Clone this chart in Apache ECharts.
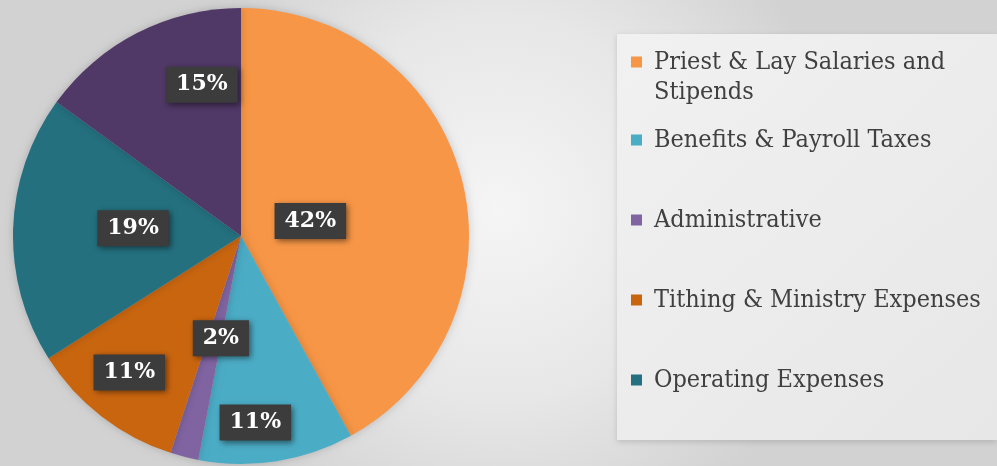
<!DOCTYPE html>
<html>
<head>
<meta charset="utf-8">
<script src="https://cdn.jsdelivr.net/npm/echarts@6/dist/echarts.min.js"></script>
<style>
html,body{margin:0;padding:0;width:997px;height:466px;overflow:hidden;}
#chart{width:997px;height:466px;}
</style>
</head>
<body>
<div id="chart"></div>
<script>
// ---- data ----
const categories = [
  'Priest & Lay Salaries and Stipends',
  'Benefits & Payroll Taxes',
  'Administrative',
  'Tithing & Ministry Expenses',
  'Operating Expenses',
  'Other Expenses'
];
const shares = [42, 11, 2, 11, 19, 15];
const legendShown = categories.slice(0, 5);

// ---- styles ----
const sliceColors = ['#F79646', '#4BACC6', '#8064A2', '#C9650F', '#24707F', '#503867'];
const labelNudge = [[-44, 14], [-4, 71], [9, -11], [-40, 44], [9, -4], [14, -47]];

const chart = echarts.init(document.getElementById('chart'));
const legendText = {
  fontFamily: '"DejaVu Serif Condensed", "DejaVu Serif", serif',
  fontSize: 25,
  color: '#404040',
  lineHeight: 30
};
chart.setOption({
  animation: false,
  backgroundColor: {
    type: 'radial', x: 0.5, y: 0.45, r: 0.75,
    colorStops: [
      {offset: 0, color: '#f5f5f5'},
      {offset: 0.55, color: '#e7e7e7'},
      {offset: 1, color: '#d2d2d2'}
    ]
  },
  graphic: [{
    type: 'rect',
    shape: {x: 617, y: 34, width: 380, height: 406},
    style: {
      fill: {type: 'linear', x: 0, y: 0, x2: 1, y2: 1,
        colorStops: [{offset: 0, color: '#f1f1f1'}, {offset: 1, color: '#e7e7e7'}]},
      shadowBlur: 6, shadowColor: 'rgba(0,0,0,0.15)', shadowOffsetY: 2
    },
    z: -1
  }],
  legend: [{
    data: [legendShown[0]],
    orient: 'vertical',
    left: 631, top: 17,
    padding: 0,
    icon: 'rect', itemWidth: 11, itemHeight: 11,
    formatter: n => '\u00a0\n' + n.replace(' Stipends', '\nStipends'),
    textStyle: Object.assign({padding: [0, 0, 0, 7]}, legendText)
  }, {
    data: legendShown.slice(1),
    orient: 'vertical',
    left: 631, top: 125,
    padding: 0,
    itemGap: 50,
    icon: 'rect', itemWidth: 11, itemHeight: 11,
    textStyle: Object.assign({padding: [0, 0, 0, 7]}, legendText)
  }],
  series: [{
    type: 'pie',
    center: [241, 236],
    radius: [0, 228],
    startAngle: 90,
    clockwise: true,
    avoidLabelOverlap: false,
    itemStyle: {shadowBlur: 8, shadowColor: 'rgba(0,0,0,0.18)'},
    label: {
      show: true,
      position: 'inside',
      formatter: p => p.value + '%',
      color: '#ffffff',
      fontFamily: 'DejaVu Serif',
      fontWeight: 'bold',
      fontSize: 22,
      backgroundColor: '#3c3c3c',
      padding: [8, 10, 6, 10],
      shadowBlur: 6,
      shadowColor: 'rgba(0,0,0,0.5)',
      shadowOffsetX: 2,
      shadowOffsetY: 2
    },
    labelLine: {show: false},
    emphasis: {disabled: true},
    data: categories.map((c, i) => ({
      name: c,
      value: shares[i],
      itemStyle: {color: sliceColors[i]},
      label: {offset: labelNudge[i]}
    }))
  }]
});
</script>
</body>
</html>
